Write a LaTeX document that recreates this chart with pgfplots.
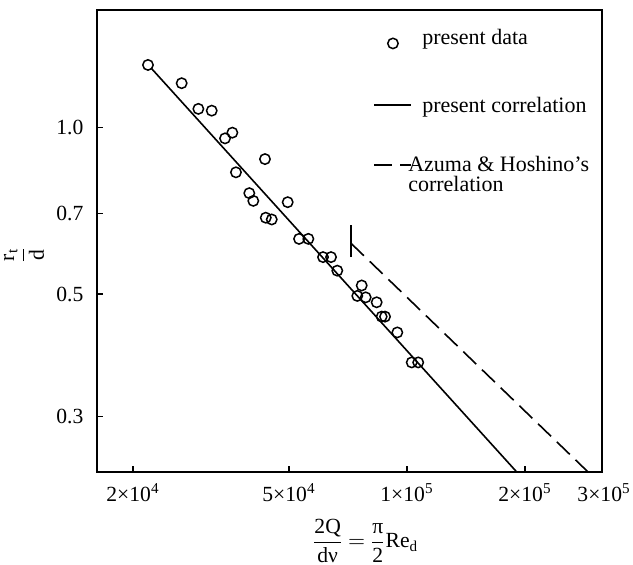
\documentclass[border=0pt]{standalone}
\usepackage{fontspec}
\setmainfont{Liberation Serif}
\usepackage{amsmath}
\usepackage{pgfplots}
\pgfplotsset{compat=1.18}
\pgfplotsset{markleg/.style={legend image code/.code={\draw[##1] plot coordinates {(9.25pt,-2.5pt)};}},
  lineleg/.style={legend image code/.code={\draw[##1] (0pt,-1.5pt) -- (18.5pt,-1.5pt);}}}

\pgfplotstableread{
x y
21840 1.298
26620 1.203
29360 1.081
31760 1.073
35850 0.979
34340 0.956
43420 0.877
36620 0.830
39600 0.761
40540 0.737
49620 0.733
43620 0.687
45180 0.682
53040 0.629
56020 0.629
61060 0.583
64000 0.583
66400 0.551
76640 0.518
74680 0.496
78460 0.493
83680 0.483
86180 0.455
87880 0.455
94460 0.426
102800 0.376
106800 0.376
}\presentdata

\begin{document}
\fontsize{10.8}{13}\selectfont
\begin{tikzpicture}
\useasboundingbox (-48.5pt,-46.5pt) rectangle (268pt,236pt);
\begin{axis}[
  at={(0,0)}, anchor=south west, scale only axis,
  width=252.5pt, height=231pt,
  xmode=log, ymode=log,
  xmin=16190, xmax=314400, ymin=0.2382, ymax=1.632,
  xtick={2e4,5e4,1e5,2e5},
  xticklabels={2\texttimes10\textsuperscript{4},5\texttimes10\textsuperscript{4},1\texttimes10\textsuperscript{5},2\texttimes10\textsuperscript{5}},
  extra x ticks={3e5},
  extra x tick labels={3\texttimes10\textsuperscript{5}},
  extra x tick style={major tick length=0pt, xticklabel style={xshift=5pt}},
  ytick={0.3,0.5,0.7,1.0},
  yticklabels={0.3,0.5,0.7,1.0},
  minor xtick={}, minor ytick={},
  tick pos=left, tick align=inside,
  major tick length=3pt,
  tick style={line width=0.6pt, black},
  axis line style={line width=1.3pt},
  xticklabel style={yshift=-2pt},
  yticklabel style={xshift=-3pt},
  xlabel={$\dfrac{\text{2Q}}{\text{dν}}\mkern-1mu=\mkern-1mu\dfrac{\text{π}}{\text{2}}\text{Re}_{\text{d}}$},
  xlabel style={at={(axis description cs:0.531,0)}, anchor=center, yshift=-34.5pt},
  ylabel={$\dfrac{\text{r}_{\text{t}}}{\text{d}}$},
  ylabel style={at={(axis description cs:-0.1446,0.47)}, anchor=center},
  legend style={draw=none, fill=none, at={(rel axis cs:0.547,0.968)}, anchor=north west,
    row sep=16pt, column sep=3pt, inner sep=0pt, font=\fontsize{11}{13}\selectfont},
  legend cell align=left,
  legend image code/.code={\draw[mark repeat=2,mark phase=2,#1] plot coordinates {(0pt,0pt) (9.25pt,0pt) (18.5pt,0pt)};},
]
\addplot[only marks, mark=o, mark size=2.6pt, mark options={line width=0.75pt, black}, markleg] table[x=x,y=y] {\presentdata};
\addlegendentry{present data}
\addplot[black, line width=0.8pt, lineleg] coordinates {(22230,1.282) (190500,0.2382)};
\addlegendentry{\rule{0pt}{12.5pt}present correlation}
\addplot[black, line width=0.8pt, dash pattern=on 9pt off 4pt] coordinates {(71960,0.6176) (289600,0.2382)};
\addlegendentry{\vtop{\baselineskip=10pt\hbox{\hspace*{-7pt}Azuma \& Hoshino's}\hbox{\hspace*{-7pt}correlation}}}
\addplot[black, line width=0.8pt, forget plot] coordinates {(71960,0.5832) (71960,0.6664)};
\end{axis}
\end{tikzpicture}
\end{document}
